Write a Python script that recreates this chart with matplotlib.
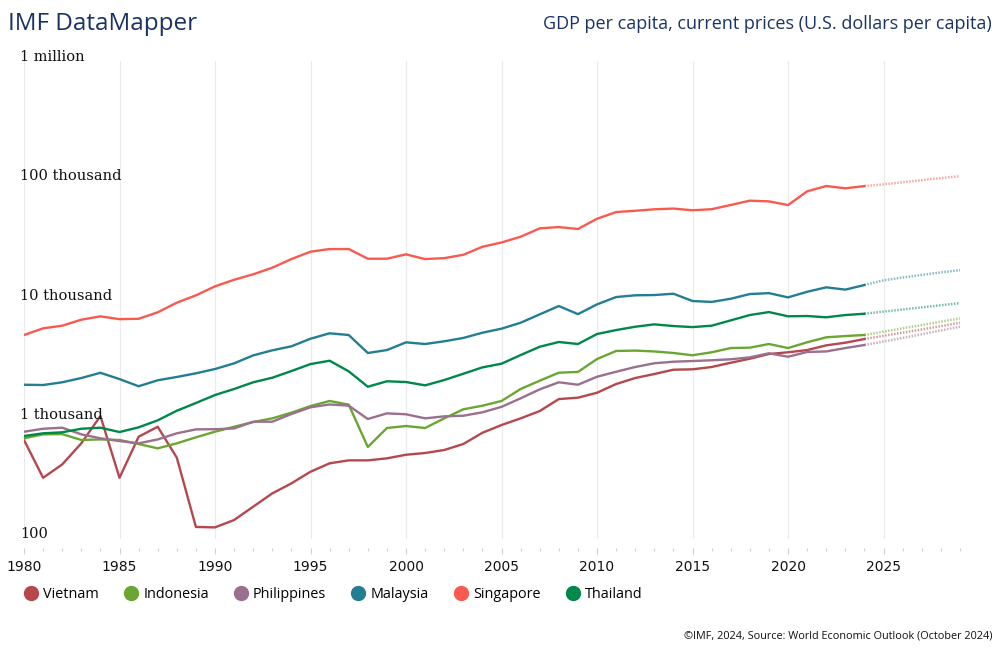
import matplotlib
matplotlib.use("Agg")
import matplotlib.pyplot as plt
from matplotlib.lines import Line2D

# GDP per capita, current prices (USD)
years = list(range(1980, 2025))
proj_years = list(range(2024, 2030))

vietnam = [670, 323, 418, 628, 1064, 323, 713, 865, 476, 125,
           124, 143, 185, 239, 290, 363, 427, 452, 452, 470,
           504, 521, 552, 620, 770, 894, 1017, 1171, 1476, 1515,
           1667, 1973, 2215, 2393, 2600, 2620, 2740, 2975, 3215, 3520,
           3640, 3800, 4160, 4380, 4700]
indonesia = [692, 747, 750, 670, 677, 670, 620, 570, 628, 705,
             786, 865, 947, 1017, 1134, 1290, 1422, 1325, 585, 844,
             877, 844, 1017, 1211, 1298, 1422, 1792, 2103, 2455, 2490,
             3195, 3735, 3760, 3700, 3590, 3435, 3640, 3950, 3980, 4270,
             3950, 4415, 4860, 4980, 5080]
philippines = [786, 832, 849, 747, 692, 656, 628, 677, 762, 822,
               825, 837, 953, 953, 1106, 1259, 1330, 1300, 1004, 1120,
               1100, 1017, 1057, 1070, 1143, 1270, 1497, 1780, 2040, 1946,
               2270, 2500, 2740, 2945, 3035, 3075, 3120, 3180, 3300, 3570,
               3340, 3660, 3700, 3950, 4190]
malaysia = [1946, 1935, 2040, 2215, 2450, 2170, 1890, 2120, 2260, 2425,
            2635, 2940, 3430, 3780, 4085, 4730, 5250, 5080, 3590, 3800,
            4410, 4270, 4500, 4800, 5310, 5740, 6440, 7570, 8890, 7600,
            9180, 10570, 10930, 10990, 11270, 9790, 9620, 10230, 11200, 11400,
            10500, 11700, 12750, 12200, 13330]
singapore = [5080, 5780, 6080, 6830, 7280, 6900, 6950, 7870, 9480, 10920,
             13000, 14760, 16400, 18620, 22000, 25370, 26700, 26700, 22150, 22150,
             24100, 22000, 22400, 23900, 27900, 30300, 33870, 39800, 40800, 39300,
             47900, 54500, 55900, 57500, 58300, 56400, 57600, 62500, 67900, 67000,
             62400, 81300, 90100, 86200, 90000]
thailand = [723, 762, 777, 832, 849, 781, 855, 979, 1178, 1367,
            1596, 1792, 2040, 2228, 2535, 2900, 3093, 2520, 1873, 2080,
            2050, 1923, 2130, 2406, 2720, 2920, 3450, 4050, 4440, 4270,
            5180, 5590, 5960, 6240, 6040, 5920, 6080, 6740, 7470, 7910,
            7290, 7330, 7150, 7470, 7660]

# projections 2024-2029
vietnam_p = [4700, 5000, 5320, 5660, 6030, 6440]
indonesia_p = [5080, 5420, 5780, 6150, 6570, 7000]
philippines_p = [4190, 4480, 4800, 5150, 5550, 5960]
malaysia_p = [13330, 14600, 15400, 16200, 17000, 17800]
singapore_p = [90000, 93000, 97000, 101000, 105000, 109000]
thailand_p = [7660, 7980, 8310, 8660, 9030, 9400]

names = ["Vietnam", "Indonesia", "Philippines", "Malaysia", "Singapore", "Thailand"]
colors = ["#b5474d", "#6aa632", "#9b6f8e", "#237e93", "#f95a4f", "#00874a"]
hist = [vietnam, indonesia, philippines, malaysia, singapore, thailand]
proj = [vietnam_p, indonesia_p, philippines_p, malaysia_p, singapore_p, thailand_p]

ytick_vals = [100, 1000, 10000, 100000, 1000000]
ytick_labels = ["100", "1 thousand", "10 thousand", "100 thousand", "1 million"]
xtick_vals = list(range(1980, 2030, 5))

fig = plt.figure(figsize=(10, 6.53), dpi=100)
ax = fig.add_axes([0.024, 0.1753, 0.9455, 0.7308])

for name, c, h, p in zip(names, colors, hist, proj):
    ax.plot(years, h, color=c, lw=1.7, solid_joinstyle="round", zorder=3)
    ax.plot(proj_years, p, color=c, lw=1.8, ls=(0, (0.6, 0.6)), alpha=0.55, zorder=2)

ax.set_yscale("log")
ax.set_ylim(100, 1e6)
ax.set_xlim(1980, 2029.5)

for s in ax.spines.values():
    s.set_visible(False)

ax.set_yticks([])
ax.minorticks_off()
for v, lab in zip(ytick_vals, ytick_labels):
    ax.annotate(lab, xy=(0, v), xycoords=("axes fraction", "data"),
                xytext=(-3, 3), textcoords="offset points", ha="left", va="center",
                family="DejaVu Serif", fontsize=10.5, color="#111111")

for x in xtick_vals:
    ax.axvline(x, color="#ebebeb", lw=0.8, zorder=0)

ax.set_xticks(xtick_vals)
ax.set_xticklabels([str(x) for x in xtick_vals], family="DejaVu Serif", fontsize=11)
ax.set_xticks(range(1980, 2030), minor=True)
ax.tick_params(axis="x", which="major", length=4, width=0.8, color="#d0d0d0",
               pad=4.5, direction="out", labelcolor="#111111")
ax.tick_params(axis="x", which="minor", length=2.5, width=0.8, color="#d0d0d0")
ax.spines["bottom"].set_position(("outward", 7))

fig.text(0.008, 0.963, "IMF DataMapper", family="Open Sans", fontsize=17.5,
         color="#1a3264", va="center", ha="left")
fig.text(0.992, 0.963, "GDP per capita, current prices (U.S. dollars per capita)",
         family="Open Sans", fontsize=13, color="#1a3264", va="center", ha="right")
fig.text(0.992, 0.026, "\u00a9IMF, 2024, Source: World Economic Outlook (October 2024)",
         family="Open Sans", fontsize=7.8, color="#111111", va="center", ha="right")

handles = [Line2D([], [], marker="o", ls="", markersize=10, color=c) for c in colors]
fig.legend(handles, names, loc="center left", bbox_to_anchor=(0.012, 0.089),
           ncol=6, frameon=False, handlelength=0.8, handletextpad=0.45,
           columnspacing=1.82, prop={"family": "Open Sans", "size": 10.4})

fig.savefig("out.png", dpi=100)
